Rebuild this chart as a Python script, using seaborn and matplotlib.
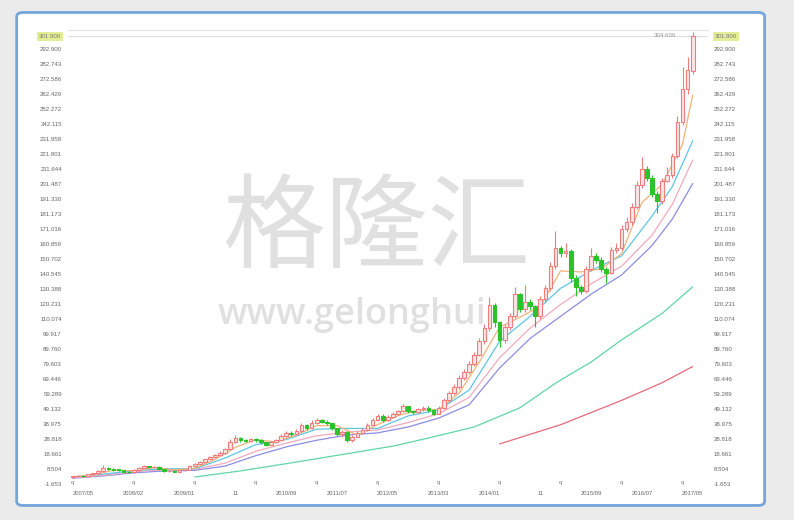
import matplotlib
matplotlib.use("Agg")
import matplotlib.pyplot as plt
import matplotlib.transforms as mtransforms
from matplotlib.patches import FancyBboxPatch
import numpy as np
import pandas as pd
import seaborn as sns

# monthly candles, 2007/03 .. 2017/05
opens = [2.8, 3.5, 4.0, 3.8, 4.8, 5.6, 7.0, 9.5, 8.5, 8.4,
         7.8, 6.5, 6.2, 7.8, 9.5, 10.2, 9.8, 10.0, 8.5, 7.0,
         7.2, 6.8, 7.5, 8.0, 10.5, 12.0, 13.5, 15.0, 16.5, 18.0,
         19.5, 22.0, 27.0, 29.5, 28.0, 27.8, 28.5, 28.0, 26.5, 25.0,
         26.5, 28.0, 31.0, 33.0, 32.0, 34.0, 38.0, 36.0, 40.0, 41.5,
         40.5, 39.5, 36.0, 32.0, 33.5, 28.0, 30.5, 33.0, 35.0, 38.5,
         42.0, 44.5, 41.5, 44.0, 46.0, 47.5, 51.0, 47.5, 47.0, 49.0,
         50.0, 48.5, 46.0, 50.0, 55.0, 60.0, 64.0, 70.0, 74.0, 80.0,
         86.0, 95.0, 104.0, 120.0, 108.0, 96.0, 105.0, 112.0, 127.0, 117.0,
         122.0, 119.0, 112.0, 124.0, 131.0, 146.0, 158.0, 155.0, 156.5, 138.0,
         132.0, 129.0, 144.0, 153.0, 150.5, 144.0, 141.5, 157.0, 158.5, 171.0,
         176.0, 186.0, 201.0, 212.0, 206.0, 195.0, 190.0, 204.0, 208.0, 221.0,
         244.0, 266.0, 278.0]
closes = [3.5, 4.0, 3.8, 4.8, 5.6, 7.0, 9.5, 8.5, 8.0, 7.8,
          6.5, 6.2, 7.8, 9.5, 10.2, 9.8, 10.0, 8.5, 7.0, 7.2,
          6.8, 7.5, 8.0, 10.5, 12.0, 13.5, 15.0, 16.5, 18.0, 19.5,
          22.0, 27.0, 29.5, 28.0, 27.8, 28.5, 28.0, 26.5, 25.0, 26.5,
          28.0, 31.0, 33.0, 32.0, 34.0, 38.0, 36.0, 40.0, 41.5, 40.5,
          39.5, 36.0, 32.0, 33.5, 28.0, 30.5, 33.0, 35.0, 38.5, 42.0,
          44.5, 41.5, 44.0, 46.0, 47.5, 51.0, 47.5, 47.0, 49.0, 50.0,
          48.5, 46.0, 50.0, 55.0, 60.0, 64.0, 70.0, 74.0, 80.0, 86.0,
          95.0, 104.0, 120.0, 108.0, 96.0, 105.0, 112.0, 127.0, 117.0, 122.0,
          119.0, 112.0, 124.0, 131.0, 146.0, 158.0, 155.0, 156.5, 138.0, 132.0,
          129.0, 144.0, 153.0, 150.5, 144.0, 141.5, 157.0, 158.5, 171.0, 176.0,
          186.0, 201.0, 212.0, 206.0, 195.0, 190.0, 204.0, 208.0, 221.0, 244.0,
          266.0, 279.0, 301.9]
highs = [4.0, 4.4, 4.3, 5.1, 6.0, 7.5, 11.2, 9.9, 9.0, 8.8,
         8.0, 7.0, 8.2, 10.0, 11.0, 10.8, 10.6, 10.2, 8.8, 7.8,
         7.6, 8.0, 8.6, 11.0, 12.6, 14.2, 15.6, 17.3, 18.8, 20.5,
         23.0, 29.0, 31.5, 30.5, 29.0, 29.8, 29.5, 28.5, 27.0, 27.5,
         29.0, 32.0, 34.0, 34.5, 35.5, 39.5, 39.0, 41.5, 43.0, 42.5,
         41.5, 40.0, 36.5, 35.0, 34.0, 31.5, 34.0, 36.0, 39.5, 43.0,
         46.0, 45.5, 45.0, 47.0, 48.5, 52.5, 51.5, 48.5, 50.0, 51.0,
         51.0, 49.0, 51.0, 56.5, 61.5, 66.0, 72.0, 76.0, 82.0, 88.0,
         97.0, 107.0, 125.0, 121.0, 109.0, 107.0, 114.0, 132.0, 128.0, 133.0,
         124.0, 120.0, 126.0, 133.0, 149.0, 170.0, 160.0, 162.0, 157.5, 140.0,
         133.0, 146.0, 158.0, 155.0, 152.0, 145.5, 159.0, 162.0, 174.0, 179.0,
         189.0, 204.0, 220.0, 214.0, 208.0, 197.0, 206.0, 213.0, 223.0, 248.0,
         281.0, 288.0, 304.609]
lows = [2.5, 3.2, 3.4, 3.6, 4.5, 5.4, 6.8, 7.9, 7.4, 7.2,
        6.0, 5.6, 6.0, 7.5, 9.2, 9.3, 9.4, 8.0, 6.6, 6.5,
        6.2, 6.4, 7.1, 7.8, 10.1, 11.6, 13.0, 14.5, 16.0, 17.4,
        19.0, 21.5, 26.0, 27.0, 26.5, 27.0, 27.0, 25.5, 24.0, 24.5,
        26.0, 27.5, 30.5, 31.0, 31.5, 33.5, 35.0, 35.5, 39.0, 39.5,
        38.0, 35.0, 31.0, 30.5, 26.5, 27.0, 30.0, 32.0, 34.5, 38.0,
        41.0, 40.5, 41.0, 43.0, 45.0, 47.0, 46.5, 46.0, 46.5, 48.0,
        47.0, 45.0, 45.5, 49.5, 54.0, 59.0, 63.0, 68.5, 73.0, 78.5,
        85.0, 93.0, 102.0, 105.0, 91.0, 94.0, 103.0, 111.0, 115.0, 115.0,
        116.0, 104.5, 110.0, 122.0, 129.0, 144.0, 152.0, 152.0, 135.0, 126.0,
        127.0, 128.0, 143.0, 148.0, 142.0, 134.5, 140.5, 155.0, 157.0, 169.0,
        174.0, 185.0, 199.0, 204.0, 193.0, 182.0, 188.0, 203.0, 206.0, 219.0,
        242.0, 263.0, 276.0]

ma5_idx = [0, 4, 8, 12, 16, 20, 24, 28, 32, 36, 40, 44, 48, 52, 56, 60,
           64, 68, 72, 76, 80, 84, 88, 92, 96, 100, 104, 108, 112, 116, 120, 122]
ma5 = [3.3, 4.3, 7.7, 7.3, 9.5, 7.9, 9.0, 15.0, 23.2, 28.4, 26.8, 31.6, 37.9, 37.9, 31.4, 38.6,
       44.7, 48.4, 48.7, 59.8, 81.0, 104.6, 111.4, 118.8, 142.8, 142.1, 144.1, 154.5, 189.2, 201.4, 228.6, 262.0]
ma_idx = [0, 6, 12, 18, 24, 30, 36, 42, 48, 54, 60, 66, 72, 78, 84, 90, 96, 102, 108, 114, 118, 122]
ma10 = [3.0, 5.0, 7.4, 8.7, 8.6, 16.0, 25.0, 28.5, 35.5, 36.0, 36.0, 44.5, 48.5, 62.0, 95.0, 112.0,
        131.0, 143.0, 153.0, 180.0, 200.0, 231.0]
ma_pink = [2.6, 4.2, 6.6, 8.0, 8.2, 12.5, 20.5, 26.0, 31.0, 33.5, 35.0, 40.0, 46.0, 57.0, 84.0, 104.0,
           120.0, 134.0, 146.0, 167.0, 188.0, 218.0]
ma_purple = [2.3, 3.8, 5.9, 7.2, 7.6, 10.5, 17.5, 23.5, 28.0, 31.5, 33.0, 37.0, 43.0, 52.0, 77.0, 97.0,
             112.0, 127.0, 140.0, 160.0, 178.0, 202.0]
ma_green_idx = [24, 33, 44, 63, 70, 79, 88, 95, 102, 108, 116, 122]
ma_green = [3.1, 7.2, 13.2, 24.0, 29.5, 37.0, 50.0, 66.7, 81.0, 96.0, 114.0, 132.0]
ma_red_idx = [84, 96, 108, 116, 122]
ma_red = [25.5, 38.5, 55.0, 67.0, 78.0]

x_tick_pos = [2, 12, 22, 32, 42, 52, 62, 72, 82, 92, 102, 112, 122]
x_tick_labels = ["2007/05", "2008/02", "2009/01", "11", "2010/09", "2011/07", "2012/05",
                 "2013/03", "2014/01", "11", "2015/09", "2016/07", "2017/05"]
y_tick_labels = ["-1.653", "8.504", "18.661", "28.818", "38.975", "49.132", "59.289", "69.446",
                 "79.603", "89.760", "99.917", "110.074", "120.231", "130.388", "140.545",
                 "150.702", "160.859", "171.016", "181.173", "191.330", "201.487", "211.644",
                 "221.801", "231.958", "242.115", "252.272", "262.429", "272.586", "282.743",
                 "292.900"]
last_price = "301.900"
max_high = "304.609"
dividend_idx = [0, 12, 24, 36, 48, 60, 72, 84, 96, 108, 120]

sns.set_style("white")
plt.rcParams['font.family'] = ['Liberation Sans', 'DejaVu Sans']

fig = plt.figure(figsize=(7.94, 5.2), dpi=100, facecolor="#ebebeb")
card = FancyBboxPatch((0.021, 0.028), 0.942, 0.948, boxstyle="round,pad=0,rounding_size=0.008",
                      transform=fig.transFigure, facecolor="white", edgecolor="#74a6dc",
                      linewidth=2, zorder=-5)
fig.patches.append(card)

ax = fig.add_axes([0.0856, 0.0635, 0.806, 0.8785])
ax.set_facecolor("none")
ax.set_zorder(2)

# watermark
fig.text(0.474, 0.556, "格隆汇", fontsize=74, color="#e0e0e0", ha="center", va="center",
         fontweight="light", family=["Noto Sans CJK SC", "DejaVu Sans"], zorder=0.5)
fig.text(0.443, 0.394, "www.gelonghui", fontsize=26, color="#e0e0e0", ha="center", va="center",
         fontweight="semibold", family=["Open Sans", "DejaVu Sans"], zorder=0.5)

df = pd.DataFrame({"open": opens, "close": closes, "high": highs, "low": lows})
df["idx"] = np.arange(len(df))
up = df[df["close"] >= df["open"]]
dn = df[df["close"] < df["open"]]

# moving averages
lines = [(ma_red_idx, ma_red, "#e56a7a"), (ma_green_idx, ma_green, "#5fd6a6"),
         (ma_idx, ma_purple, "#8c8ce6"), (ma_idx, ma_pink, "#f3a9bd"),
         (ma_idx, ma10, "#5cc6e6"), (ma5_idx, ma5, "#f2b27a")]
for xs, ys, col in lines:
    sns.lineplot(x=xs, y=ys, ax=ax, color=col, linewidth=0.9, zorder=2)

# candles
ax.vlines(up["idx"], up["low"], up["high"], color="#f07c7c", linewidth=0.8, zorder=3)
ax.vlines(dn["idx"], dn["low"], dn["high"], color="#2cc22c", linewidth=0.8, zorder=3)
ax.bar(up["idx"], up["close"] - up["open"], bottom=up["open"], width=0.72,
       facecolor="#fde6e6", edgecolor="#f07c7c", linewidth=0.8, zorder=4)
ax.bar(dn["idx"], dn["open"] - dn["close"], bottom=dn["close"], width=0.72,
       facecolor="#2cc22c", edgecolor="#2cc22c", linewidth=0.8, zorder=4)

# last price line and labels
lp = float(last_price)
ax.axhline(lp, color="#dddddd", linewidth=0.8, zorder=1)
trans = mtransforms.blended_transform_factory(ax.transAxes, ax.transData)
for xa, ha, off in [(0, "right", -5), (1, "left", 5)]:
    ax.annotate(last_price, xy=(xa, lp), xycoords=trans, xytext=(off, 0), textcoords="offset points",
                ha=ha, va="center", fontsize=4.4, color="#777777",
                bbox=dict(boxstyle="square,pad=0.35", facecolor="#e3ef98", edgecolor="none"))
ax.text(118.8, 302.3, max_high, fontsize=4.4, color="#999999", ha="right", va="center")

for d in dividend_idx:
    ax.text(d, -0.8, "q", fontsize=4.2, color="#777777", ha="center", va="center")

ax.set_xlim(-0.95, 125)
ax.set_ylim(-3.69, 306.0)
ax.set_xticks(x_tick_pos)
ax.set_xticklabels(x_tick_labels)
ax.set_yticks([float(t) for t in y_tick_labels])
ax.set_yticklabels(y_tick_labels)
ax.tick_params(axis="y", length=0, labelsize=4.4, labelcolor="#666666", pad=4.3,
               labelleft=True, labelright=True)
ax.tick_params(axis="x", length=0, labelsize=4.2, labelcolor="#666666", pad=3.0)
ax.set_xlabel("")
ax.set_ylabel("")
for s in ["left", "right", "bottom"]:
    ax.spines[s].set_visible(False)
ax.spines["top"].set_color("#e4e4e4")
ax.spines["top"].set_linewidth(0.8)

fig.savefig("out.png", dpi=100, facecolor=fig.get_facecolor())
